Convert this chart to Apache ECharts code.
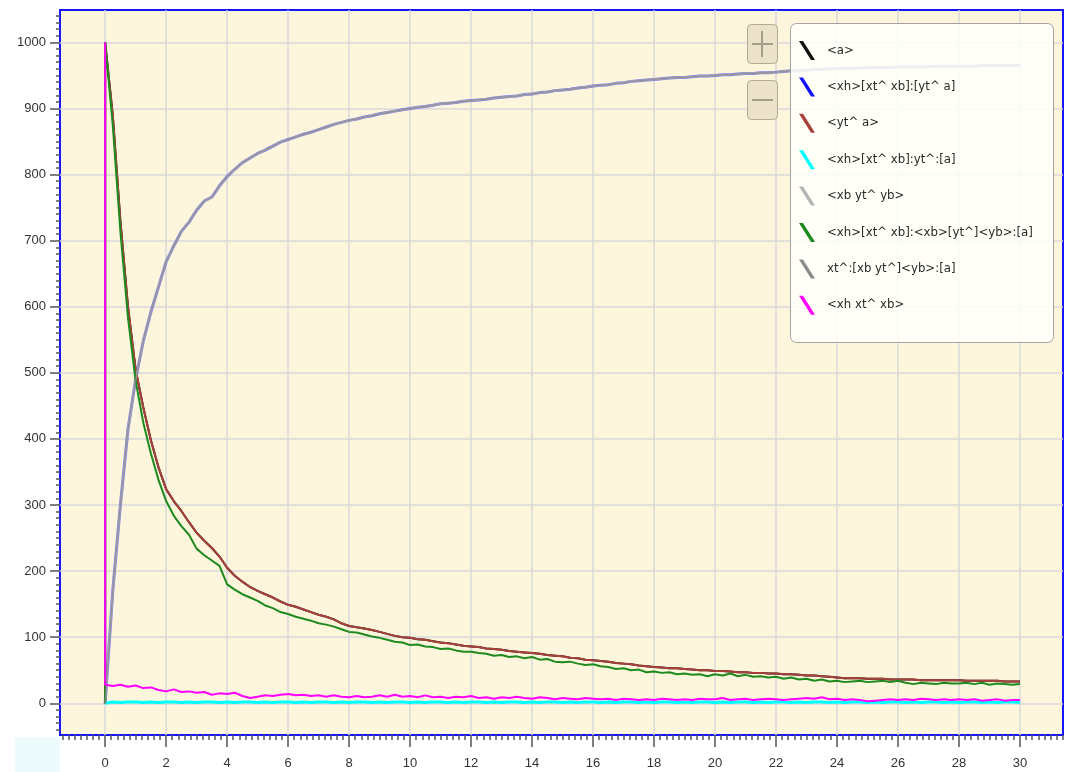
<!DOCTYPE html>
<html><head><meta charset="utf-8">
<script src="https://cdn.jsdelivr.net/npm/echarts@6/dist/echarts.min.js"></script>
<style>html,body{margin:0;padding:0;background:#fff}#c{width:1068px;height:772px}</style>
</head><body><div id="c"></div><script>
// sample times (first three entries are the initial records at t = 0)
const times = [0,0,0,
 0.25,0.5,0.75,1, 1.25,1.5,1.75,2, 2.25,2.5,2.75,3, 3.25,3.5,3.75,4, 4.25,4.5,4.75,5,
 5.25,5.5,5.75,6, 6.25,6.5,6.75,7, 7.25,7.5,7.75,8, 8.25,8.5,8.75,9, 9.25,9.5,9.75,10,
 10.25,10.5,10.75,11, 11.25,11.5,11.75,12, 12.25,12.5,12.75,13, 13.25,13.5,13.75,14, 14.25,14.5,14.75,15,
 15.25,15.5,15.75,16, 16.25,16.5,16.75,17, 17.25,17.5,17.75,18, 18.25,18.5,18.75,19, 19.25,19.5,19.75,20,
 20.25,20.5,20.75,21, 21.25,21.5,21.75,22, 22.25,22.5,22.75,23, 23.25,23.5,23.75,24, 24.25,24.5,24.75,25,
 25.25,25.5,25.75,26, 26.25,26.5,26.75,27, 27.25,27.5,27.75,28, 28.25,28.5,28.75,29, 29.25,29.5,29.75,30];

// <yt^ a>
const ytA = [0,1000,1000,
 890,730,600,505, 448,398,357,324, 306,291,274,258, 246,235,222,205, 193,184,176,170,
 165,160,154,149, 146,142,138,134, 131,127,121,117, 115,113,111,108, 105,102,100,99,
 97,96,94,92, 91,89,87,86, 85,83,82,81, 79,78,77,76, 75,73,72,71,
 69,68,66,65, 64,63,61,60, 59,57,56,55, 54,53,53,52, 51,50,50,49,
 49,48,47,47, 46,46,45,45, 44,44,43,42, 42,41,40,39, 38,38,38,37,
 37,37,36,36, 36,36,35,35, 35,35,35,35, 34,34,34,34, 34,33,33,33];

// <a> (runs underneath <yt^ a>)
const aVals = ytA.slice();

// <xh>[xt^ xb]:<xb>[yt^]<yb>:[a]
const greenVals = [0,1000,1000,
 875,714,583,488, 425,378,338,306, 284,268,255,234, 224,216,208,180, 172,165,160,155,
 148,144,138,135, 131,128,125,121, 119,116,112,108, 107,104,101,99, 96,93,92,88,
 89,86,85,82, 83,80,78,78, 76,75,72,73, 70,71,68,70, 66,67,63,62,
 63,60,58,59, 56,55,52,53, 50,51,47,48, 46,47,44,45, 43,44,41,44,
 42,45,41,43, 40,41,39,40, 37,39,36,37, 34,36,33,34, 32,33,34,32,
 33,34,32,34, 31,29,31,30, 29,31,30,30, 31,29,31,28, 30,29,28,29];

// <xh xt^ xb>
const magentaVals = [null,1000,28,
 26,28,25,27, 23,24,20,18, 21,17,18,16, 17,13,15,14, 16,11,8,10,
 12,11,13,14, 12,13,11,12, 10,12,10,9, 11,9,10,12, 10,13,10,11,
 9,12,9,10, 8,10,9,11, 8,9,7,9, 8,10,8,7, 9,8,6,8,
 7,6,8,7, 6,7,5,7, 6,5,6,5, 7,6,5,6, 5,7,6,6,
 8,5,6,7, 5,6,7,6, 5,6,7,8, 7,9,6,7, 5,6,5,3,
 4,5,6,5, 6,5,7,6, 5,6,5,6, 5,6,4,5, 6,4,5,5];

// <xh>[xt^ xb]:yt^:[a]
const cyanVals = [0,0,0,
 2,1,2,2, 1,2,1,2, 2,1,2,1, 2,2,1,2, 1,2,2,1,
 2,1,2,2, 1,2,1,2, 2,1,2,1, 2,2,1,2, 1,2,2,1,
 2,1,2,2, 1,2,1,2, 2,1,2,1, 2,2,1,2, 1,2,2,1,
 2,1,2,2, 1,2,1,2, 2,1,2,1, 2,2,1,2, 1,2,2,1,
 2,1,2,2, 1,2,1,2, 2,1,2,1, 2,2,1,2, 1,2,2,1,
 2,1,2,2, 1,2,1,2, 2,1,2,1, 2,2,1,2, 1,2,2,1];

// <xh>[xt^ xb]:[yt^ a]  /  <xb yt^ yb>  /  xt^:[xb yt^]<yb>:[a]
const risingVals = [0,0,0,
 170,300,415,490, 548,592,630,668, 692,714,728,746, 760,766,783,797, 808,818,825,832,
 837,843,849,853, 857,861,864,868, 872,876,879,882, 884,887,889,892, 894,896,898,900,
 902,903,905,907, 908,909,911,912, 913,914,916,917, 918,919,921,922, 924,925,927,928,
 929,931,932,934, 935,936,938,939, 941,942,943,944, 945,946,947,947, 948,949,949,950,
 951,951,952,953, 953,954,954,955, 956,957,957,958, 959,959,960,960, 961,961,961,962,
 962,962,962,963, 963,963,963,963, 964,964,964,964, 964,964,965,965, 965,965,965,965];
const blueVals = risingVals;
const lightGrayVals = risingVals;
const grayVals = risingVals;

const xTickLabels = [0,2,4,6,8,10,12,14,16,18,20,22,24,26,28,30];
const yTickLabels = [0,100,200,300,400,500,600,700,800,900,1000];

const xMinor = []; for (let v = -14; v <= 314; v += 2) xMinor.push(v / 10);
const yMinor = []; for (let v = -40; v <= 1040; v += 10) yMinor.push(v);

const FONT = 'DejaVu Sans';
const AXIS_FONT = 'Liberation Sans';
const X_MIN = -1.48, X_MAX = 31.41, Y_MIN = -48, Y_MAX = 1049;

function pairs(vals) { return times.map((t, i) => [t, vals[i]]); }

const defs = [
  {name: '<a>', vals: aVals, color: '#111111', width: 2, opacity: 1},
  {name: '<xh>[xt^ xb]:[yt^ a]', vals: blueVals, color: '#1010ff', width: 3, opacity: 0.55},
  {name: '<yt^ a>', vals: ytA, color: '#a8403a', width: 2, opacity: 1},
  {name: '<xh>[xt^ xb]:yt^:[a]', vals: cyanVals, color: '#00ffff', width: 3, opacity: 1},
  {name: '<xb yt^ yb>', vals: lightGrayVals, color: '#b4b4b4', width: 2.2, opacity: 0.8},
  {name: '<xh>[xt^ xb]:<xb>[yt^]<yb>:[a]', vals: greenVals, color: '#1e8a1e', width: 2, opacity: 1},
  {name: 'xt^:[xb yt^]<yb>:[a]', vals: grayVals, color: '#8a8a8a', width: 1.4, opacity: 0.7},
  {name: '<xh xt^ xb>', vals: magentaVals, color: '#ff00ff', width: 2, opacity: 1}
];

const chart = echarts.init(document.getElementById('c'), null, {renderer: 'canvas'});

const labelStyle = {fontFamily: AXIS_FONT, fontSize: 13, color: '#333', formatter: v => String(v)};
const tickLine = {color: '#555', width: 1.5};
const splitStyle = {color: '#d9d9d9', width: 1.5};
const noLine = {show: false, onZero: false};

chart.setOption({
  animation: false,
  backgroundColor: '#ffffff',
  grid: {left: 60, right: 5, top: 10, bottom: 37, show: true,
         backgroundColor: '#fdf6dd', borderColor: '#1515ff', borderWidth: 2},
  xAxis: [
    {type: 'value', min: X_MIN, max: X_MAX, position: 'bottom',
     axisLine: noLine,
     axisTick: {show: true, inside: false, length: 12, customValues: xTickLabels, lineStyle: tickLine},
     axisLabel: Object.assign({customValues: xTickLabels, margin: 22}, labelStyle),
     splitLine: {show: true, lineStyle: splitStyle}},
    {type: 'value', min: X_MIN, max: X_MAX, position: 'bottom',
     axisLine: noLine,
     axisTick: {show: true, inside: false, length: 5, customValues: xMinor, lineStyle: tickLine},
     axisLabel: {show: false}, splitLine: {show: false}}
  ],
  yAxis: [
    {type: 'value', min: Y_MIN, max: Y_MAX, position: 'left',
     axisLine: noLine,
     axisTick: {show: true, inside: false, length: 10, customValues: yTickLabels, lineStyle: tickLine},
     axisLabel: Object.assign({customValues: yTickLabels, margin: 14}, labelStyle),
     splitLine: {show: true, lineStyle: splitStyle}},
    {type: 'value', min: Y_MIN, max: Y_MAX, position: 'left',
     axisLine: noLine,
     axisTick: {show: true, inside: false, length: 4, customValues: yMinor, lineStyle: tickLine},
     axisLabel: {show: false}, splitLine: {show: false}}
  ],
  legend: {
    orient: 'vertical', left: 799, top: 41, padding: 0,
    itemWidth: 16, itemHeight: 19, itemGap: 17.4,
    icon: 'path://M0,0 L4,0 L16,19 L12,19 Z',
    selectedMode: false,
    textStyle: {fontFamily: FONT, fontSize: 11.75, color: '#2a2a2a', padding: [0, 0, 0, 7]},
    data: defs.map(d => d.name),
    z: 6
  },
  graphic: [
    {type: 'rect', z: 5, shape: {x: 790.5, y: 23.5, width: 263, height: 319, r: 6},
     style: {fill: 'rgba(255,255,252,0.85)', stroke: '#a3a3a3', lineWidth: 1}},
    {type: 'rect', z: 5, shape: {x: 747.5, y: 24.5, width: 30, height: 39, r: 4},
     style: {fill: '#ebe2c9', stroke: '#b3a994', lineWidth: 1}},
    {type: 'line', z: 5, shape: {x1: 752, y1: 44, x2: 773, y2: 44}, style: {stroke: '#a69e8a', lineWidth: 2}},
    {type: 'line', z: 5, shape: {x1: 762, y1: 31, x2: 762, y2: 57}, style: {stroke: '#a69e8a', lineWidth: 2}},
    {type: 'rect', z: 5, shape: {x: 747.5, y: 80.5, width: 30, height: 39, r: 4},
     style: {fill: '#ebe2c9', stroke: '#b3a994', lineWidth: 1}},
    {type: 'line', z: 5, shape: {x1: 752, y1: 100, x2: 773, y2: 100}, style: {stroke: '#a69e8a', lineWidth: 2}},
    {type: 'rect', z: 1, shape: {x: 15, y: 737, width: 45, height: 35},
     style: {fill: '#eefbfc'}}
  ],
  series: defs.map(d => ({
    name: d.name, type: 'line', xAxisIndex: 0, yAxisIndex: 0,
    data: pairs(d.vals), showSymbol: false, symbol: 'none', connectNulls: false,
    lineStyle: {color: d.color, width: d.width, opacity: d.opacity},
    itemStyle: {color: d.color},
    emphasis: {disabled: true}
  }))
});
</script></body></html>
